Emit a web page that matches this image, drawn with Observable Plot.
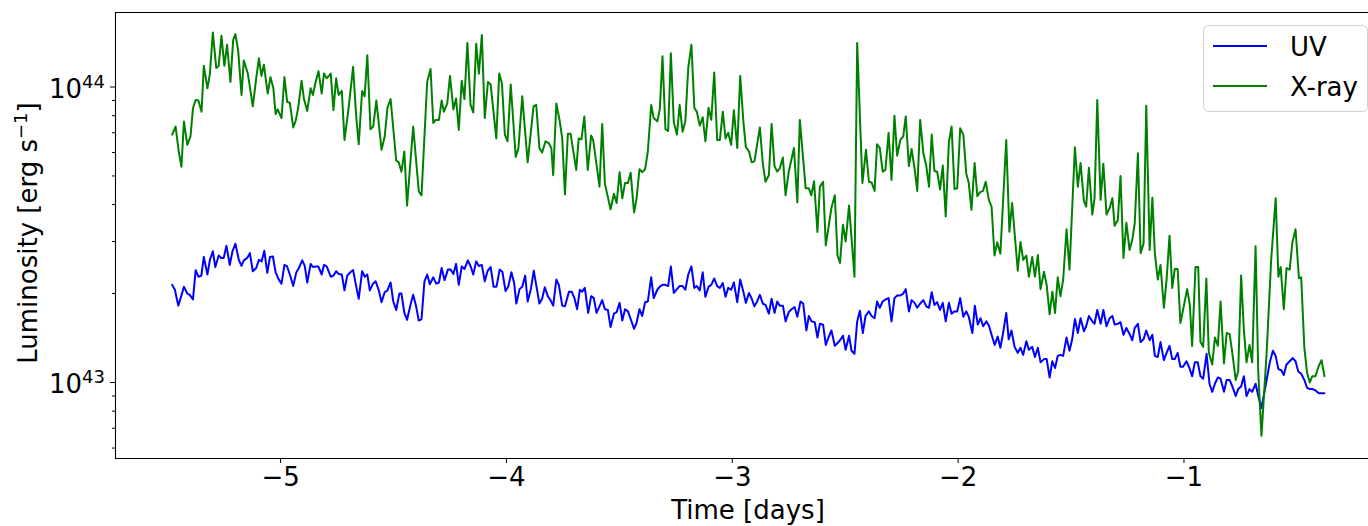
<!DOCTYPE html>
<html><head><meta charset="utf-8">
<script src="https://cdn.jsdelivr.net/npm/d3@7"></script>
<script src="https://cdn.jsdelivr.net/npm/@observablehq/plot@0.6"></script>
<style>
html,body{margin:0;padding:0;background:#fff;overflow:hidden;}
#chart svg{display:block;}
</style></head><body><div id="chart"></div>
<script>
// Luminosity values are in units of 1e43 erg/s
const UNIT = 1e43;
const seriesNames = ["UV", "X-ray"];
const seriesColors = ["#0000ff", "#008000"];
const xTicks = [-5, -4, -3, -2, -1];
const yMajorTicks = [1e43, 1e44];
const yMajorExp = ["43", "44"];
const yMinorTicks = [6e42, 7e42, 8e42, 9e42, 2e43, 3e43, 4e43, 5e43, 6e43, 7e43, 8e43, 9e43];

const xrayTime = [
-5.480,-5.465,-5.451,-5.439,-5.428,-5.413,-5.399,-5.388,-5.376,-5.364,
-5.350,-5.340,-5.324,-5.313,-5.300,-5.285,-5.274,-5.262,-5.249,-5.237,
-5.222,-5.210,-5.200,-5.188,-5.173,-5.163,-5.145,-5.123,-5.108,-5.096,
-5.085,-5.074,-5.057,-5.045,-5.032,-5.022,-5.013,-4.996,-4.983,-4.971,
-4.959,-4.944,-4.934,-4.922,-4.907,-4.897,-4.882,-4.867,-4.857,-4.845,
-4.832,-4.818,-4.808,-4.796,-4.778,-4.766,-4.754,-4.743,-4.729,-4.717,
-4.698,-4.679,-4.665,-4.654,-4.639,-4.628,-4.616,-4.602,-4.590,-4.576,
-4.553,-4.539,-4.527,-4.513,-4.488,-4.477,-4.465,-4.452,-4.440,-4.413,
-4.388,-4.376,-4.351,-4.336,-4.324,-4.314,-4.299,-4.287,-4.277,-4.262,
-4.250,-4.235,-4.223,-4.211,-4.198,-4.186,-4.173,-4.159,-4.147,-4.134,
-4.122,-4.109,-4.096,-4.082,-4.070,-4.045,-4.032,-4.020,-4.007,-3.995,
-3.981,-3.959,-3.947,-3.930,-3.906,-3.880,-3.868,-3.854,-3.842,-3.827,
-3.812,-3.801,-3.793,-3.779,-3.765,-3.753,-3.741,-3.728,-3.716,-3.691,
-3.680,-3.668,-3.655,-3.640,-3.625,-3.616,-3.588,-3.576,-3.564,-3.539,
-3.524,-3.512,-3.499,-3.487,-3.475,-3.462,-3.450,-3.435,-3.424,-3.411,
-3.399,-3.386,-3.374,-3.359,-3.348,-3.332,-3.321,-3.309,-3.296,-3.284,
-3.272,-3.259,-3.245,-3.233,-3.220,-3.208,-3.195,-3.181,-3.168,-3.157,
-3.144,-3.131,-3.119,-3.105,-3.093,-3.080,-3.067,-3.055,-3.042,-3.030,
-3.018,-3.005,-2.993,-2.978,-2.965,-2.951,-2.940,-2.926,-2.914,-2.902,
-2.878,-2.865,-2.853,-2.838,-2.826,-2.813,-2.801,-2.790,-2.776,-2.764,
-2.750,-2.727,-2.712,-2.701,-2.675,-2.661,-2.650,-2.638,-2.623,-2.612,
-2.598,-2.586,-2.561,-2.546,-2.534,-2.523,-2.510,-2.498,-2.483,-2.459,
-2.447,-2.424,-2.408,-2.395,-2.383,-2.370,-2.359,-2.347,-2.334,-2.322,
-2.308,-2.295,-2.282,-2.270,-2.256,-2.243,-2.232,-2.218,-2.206,-2.193,
-2.181,-2.168,-2.154,-2.141,-2.129,-2.117,-2.105,-2.093,-2.080,-2.068,
-2.055,-2.041,-2.029,-2.016,-2.004,-1.991,-1.977,-1.964,-1.953,-1.941,
-1.927,-1.915,-1.904,-1.890,-1.878,-1.864,-1.852,-1.839,-1.827,-1.813,
-1.787,-1.773,-1.761,-1.736,-1.724,-1.712,-1.698,-1.687,-1.672,-1.660,
-1.647,-1.635,-1.620,-1.608,-1.595,-1.583,-1.571,-1.559,-1.547,-1.535,
-1.520,-1.507,-1.483,-1.470,-1.458,-1.443,-1.433,-1.421,-1.406,-1.396,
-1.384,-1.369,-1.357,-1.343,-1.329,-1.317,-1.307,-1.293,-1.281,-1.268,
-1.255,-1.241,-1.229,-1.218,-1.204,-1.192,-1.179,-1.167,-1.152,-1.140,
-1.129,-1.116,-1.104,-1.089,-1.077,-1.064,-1.052,-1.041,-1.028,-1.016,
-1.001,-0.986,-0.974,-0.964,-0.949,-0.937,-0.927,-0.915,-0.901,-0.890,
-0.875,-0.863,-0.850,-0.838,-0.823,-0.811,-0.798,-0.786,-0.771,-0.760,
-0.747,-0.735,-0.723,-0.710,-0.698,-0.683,-0.671,-0.657,-0.634,-0.614,
-0.594,-0.582,-0.572,-0.558,-0.546,-0.532,-0.520,-0.506,-0.491,-0.481,
-0.467,-0.455,-0.443,-0.432,-0.418,-0.403,-0.391,-0.378
];
const xrayLum = [
6.9,7.35,6.05,5.37,7.64,6.37,6.8,8.47,9.04,9.0,
8.25,11.8,9.9,11.1,15.3,11.6,11.8,14.9,11.8,13.9,
10.4,14.4,15.1,13.3,9.4,12.3,11.1,8.6,10.7,12.5,
10.9,11.9,9.5,10.8,9.9,8.1,8.4,7.85,10.8,8.9,
8.85,7.3,7.65,8.5,10.5,9.15,8.3,9.9,9.4,10.4,
11.3,9.5,11.1,10.7,11.1,8.35,10.7,9.4,9.7,6.62,
8.6,11.7,7.9,6.4,9.7,9.3,12.8,7.2,7.35,9.0,
6.13,6.8,8.5,9.1,5.64,5.56,5.17,6.05,3.97,7.35,
4.43,4.3,10.4,11.5,7.55,7.74,7.74,9.0,8.25,8.8,
10.9,8.4,9.15,7.16,10.5,9.1,14.1,8.7,8.2,14.0,
11.1,15.0,7.85,10.4,10.2,6.7,11.1,10.3,6.9,6.55,
10.2,5.8,6.2,9.3,5.56,8.6,8.7,6.2,6.0,6.55,
6.45,6.2,5.03,8.8,7.74,6.7,4.33,6.95,6.95,5.24,
6.7,6.65,7.95,5.24,6.85,6.62,4.6,7.5,4.7,3.86,
4.35,4.05,5.15,4.2,4.73,4.73,5.13,3.76,4.18,5.27,
5.15,5.27,6.05,8.7,7.85,7.65,8.4,12.7,7.2,7.1,
13.0,7.6,6.9,8.7,7.05,7.65,11.6,13.9,8.5,8.25,
7.4,7.9,6.55,8.5,7.74,11.2,6.62,6.62,8.25,6.7,
7.0,6.37,8.35,6.22,10.9,7.65,6.27,6.05,5.56,5.6,
7.3,5.53,4.78,5.03,7.5,5.4,5.17,5.3,5.77,4.3,
5.17,6.22,4.07,7.74,4.54,4.54,4.3,4.8,3.23,4.6,
4.78,2.91,3.9,4.3,2.69,2.54,3.42,3.0,3.97,2.28,
14.1,4.73,6.13,4.78,4.75,4.45,6.4,6.22,5.17,5.24,
7.0,4.85,8.0,5.85,6.62,6.8,7.95,5.4,6.17,5.3,
4.45,7.74,5.97,5.4,4.6,6.9,5.2,5.17,4.5,5.42,
3.65,6.5,7.35,4.52,4.54,7.25,6.9,5.1,4.73,3.84,
5.53,4.27,4.4,4.45,4.78,4.15,3.94,2.69,2.98,2.73,
6.62,3.24,4.05,2.39,2.99,2.6,2.69,2.28,2.66,2.28,
2.7,2.07,2.37,2.14,1.70,2.03,1.72,2.27,1.96,2.23,
3.3,2.41,6.25,4.6,5.53,4.12,3.94,5.33,3.7,4.2,
9.04,4.15,5.5,3.7,3.9,4.2,3.39,3.55,5.0,2.64,
3.47,2.81,3.04,3.46,5.97,2.74,2.95,8.64,2.81,4.22,
2.74,2.23,2.5,1.79,2.23,3.14,2.09,2.42,2.42,1.59,
1.81,2.07,1.83,1.33,2.46,2.46,1.37,1.32,2.25,1.26,
1.15,1.42,1.33,1.88,1.16,1.47,1.46,1.26,1.02,1.09,
2.3,1.51,1.17,1.34,1.17,2.89,1.08,0.66,1.26,2.6,
4.2,2.28,2.46,1.77,2.44,2.41,2.98,3.3,2.25,2.27,
1.31,1.08,1.0,1.05,1.05,1.14,1.19,1.05
];
const uvTime = [
-5.480,-5.468,-5.453,-5.440,-5.428,-5.413,-5.402,-5.388,-5.376,-5.364,
-5.351,-5.340,-5.324,-5.313,-5.300,-5.289,-5.274,-5.263,-5.252,-5.240,
-5.225,-5.213,-5.200,-5.185,-5.173,-5.163,-5.148,-5.136,-5.123,-5.108,
-5.096,-5.084,-5.072,-5.059,-5.047,-5.034,-5.022,-5.008,-4.996,-4.983,
-4.971,-4.956,-4.944,-4.931,-4.919,-4.904,-4.893,-4.882,-4.867,-4.857,
-4.845,-4.833,-4.818,-4.808,-4.796,-4.778,-4.766,-4.754,-4.743,-4.729,
-4.717,-4.705,-4.691,-4.679,-4.665,-4.654,-4.639,-4.627,-4.616,-4.605,
-4.591,-4.579,-4.565,-4.553,-4.539,-4.527,-4.513,-4.501,-4.488,-4.474,
-4.465,-4.452,-4.440,-4.425,-4.413,-4.400,-4.388,-4.376,-4.363,-4.351,
-4.339,-4.324,-4.311,-4.299,-4.287,-4.274,-4.259,-4.247,-4.235,-4.223,
-4.211,-4.198,-4.186,-4.171,-4.159,-4.147,-4.134,-4.122,-4.109,-4.096,
-4.084,-4.070,-4.057,-4.044,-4.030,-4.018,-4.004,-3.992,-3.978,-3.966,
-3.956,-3.942,-3.930,-3.917,-3.906,-3.892,-3.879,-3.867,-3.854,-3.842,
-3.830,-3.817,-3.805,-3.793,-3.779,-3.768,-3.753,-3.741,-3.723,-3.711,
-3.699,-3.687,-3.675,-3.665,-3.653,-3.638,-3.625,-3.613,-3.601,-3.588,
-3.576,-3.564,-3.551,-3.539,-3.524,-3.512,-3.499,-3.487,-3.475,-3.462,
-3.450,-3.435,-3.424,-3.411,-3.399,-3.386,-3.374,-3.359,-3.348,-3.332,
-3.321,-3.309,-3.296,-3.284,-3.272,-3.259,-3.245,-3.233,-3.220,-3.208,
-3.195,-3.181,-3.168,-3.157,-3.144,-3.131,-3.119,-3.105,-3.093,-3.080,
-3.067,-3.055,-3.042,-3.030,-3.018,-3.005,-2.993,-2.978,-2.965,-2.951,
-2.940,-2.926,-2.914,-2.902,-2.890,-2.878,-2.865,-2.853,-2.838,-2.826,
-2.813,-2.801,-2.790,-2.776,-2.764,-2.750,-2.738,-2.724,-2.712,-2.698,
-2.686,-2.672,-2.661,-2.649,-2.635,-2.623,-2.612,-2.598,-2.586,-2.574,
-2.561,-2.546,-2.534,-2.523,-2.510,-2.498,-2.483,-2.472,-2.459,-2.447,
-2.435,-2.422,-2.410,-2.395,-2.383,-2.370,-2.359,-2.347,-2.334,-2.322,
-2.308,-2.295,-2.282,-2.270,-2.256,-2.243,-2.232,-2.218,-2.206,-2.193,
-2.181,-2.168,-2.154,-2.141,-2.129,-2.117,-2.105,-2.093,-2.080,-2.068,
-2.055,-2.041,-2.029,-2.016,-2.004,-1.991,-1.977,-1.964,-1.953,-1.937,
-1.926,-1.913,-1.901,-1.889,-1.875,-1.864,-1.852,-1.838,-1.825,-1.813,
-1.801,-1.787,-1.776,-1.764,-1.750,-1.736,-1.724,-1.712,-1.698,-1.687,
-1.672,-1.660,-1.647,-1.635,-1.620,-1.608,-1.595,-1.583,-1.571,-1.559,
-1.547,-1.535,-1.520,-1.507,-1.495,-1.483,-1.470,-1.458,-1.443,-1.433,
-1.421,-1.406,-1.396,-1.384,-1.369,-1.357,-1.343,-1.329,-1.317,-1.307,
-1.293,-1.281,-1.268,-1.255,-1.241,-1.229,-1.218,-1.204,-1.192,-1.179,
-1.167,-1.152,-1.140,-1.129,-1.116,-1.104,-1.089,-1.077,-1.064,-1.052,
-1.041,-1.028,-1.016,-1.004,-0.989,-0.976,-0.964,-0.952,-0.939,-0.927,
-0.915,-0.900,-0.887,-0.875,-0.863,-0.850,-0.838,-0.823,-0.811,-0.798,
-0.786,-0.771,-0.760,-0.747,-0.735,-0.723,-0.710,-0.698,-0.683,-0.671,
-0.657,-0.634,-0.620,-0.606,-0.594,-0.582,-0.569,-0.558,-0.546,-0.532,
-0.518,-0.506,-0.494,-0.481,-0.467,-0.455,-0.443,-0.430,-0.418,-0.403,-0.378
];
const uvLum = [
2.14,2.06,1.82,1.96,2.11,2.0,1.98,1.91,2.40,2.28,
2.3,2.66,2.32,2.6,2.78,2.46,2.69,2.64,2.64,2.9,
2.5,2.78,2.95,2.6,2.48,2.59,2.64,2.74,2.38,2.44,
2.6,2.57,2.79,2.35,2.66,2.67,2.36,2.23,2.16,2.5,
2.47,2.28,2.12,2.35,2.44,2.59,2.48,2.18,2.52,2.46,
2.47,2.47,2.32,2.5,2.47,2.28,2.3,2.38,2.33,2.32,
2.05,2.3,2.36,2.40,2.11,1.92,2.38,2.28,2.32,2.05,
2.16,2.2,2.05,1.87,2.02,2.05,2.18,1.88,1.76,2.0,
2.0,1.72,1.63,1.83,1.98,1.81,1.62,1.64,2.2,2.32,
2.15,2.27,2.16,2.18,2.44,2.22,2.41,2.41,2.33,2.52,
2.14,2.47,2.42,2.59,2.48,2.32,2.57,2.48,2.5,2.2,
2.38,2.46,2.11,2.11,2.41,2.37,2.04,2.11,2.36,2.17,
1.85,2.07,2.11,2.3,1.88,2.07,2.39,2.11,1.85,1.92,
2.1,1.96,1.90,1.82,2.23,2.14,1.82,1.81,2.03,2.03,
1.93,1.77,2.06,2.03,2.09,1.72,1.96,1.93,1.72,1.81,
1.90,1.77,1.76,1.54,1.71,1.73,1.86,1.62,1.77,1.74,
1.64,1.52,1.59,1.77,1.68,1.87,1.88,2.27,1.93,2.06,
2.11,2.14,2.14,2.12,2.47,2.01,2.07,2.12,2.12,2.06,
2.32,2.47,2.09,2.12,2.05,2.36,1.95,2.11,2.14,2.25,
2.12,2.09,2.17,1.95,2.09,2.06,2.18,1.87,2.23,2.03,
1.86,2.01,1.92,1.81,1.88,1.98,1.85,1.83,1.71,1.92,
1.72,1.88,1.82,1.82,1.61,1.73,1.77,1.80,1.67,1.88,
1.85,1.50,1.68,1.61,1.60,1.42,1.58,1.57,1.34,1.42,
1.50,1.33,1.36,1.39,1.44,1.29,1.44,1.28,1.25,1.61,
1.75,1.47,1.68,1.74,1.68,1.65,1.88,1.79,1.88,1.91,
1.93,1.61,1.93,1.97,1.97,2.0,2.07,1.74,1.90,1.86,
1.79,1.85,1.90,1.81,1.79,2.02,1.83,1.87,1.76,1.86,
1.61,1.86,1.71,1.74,1.74,1.93,1.67,1.74,1.67,1.47,
1.82,1.57,1.65,1.55,1.61,1.56,1.45,1.34,1.43,1.31,
1.47,1.72,1.40,1.50,1.32,1.26,1.31,1.24,1.38,1.29,
1.32,1.22,1.31,1.17,1.2,1.2,1.04,1.18,1.12,1.23,
1.24,1.23,1.42,1.28,1.40,1.64,1.47,1.65,1.49,1.55,
1.68,1.61,1.58,1.76,1.58,1.76,1.55,1.65,1.68,1.57,
1.58,1.60,1.45,1.53,1.46,1.39,1.53,1.58,1.37,1.40,
1.50,1.39,1.45,1.23,1.22,1.37,1.19,1.26,1.33,1.2,
1.2,1.26,1.13,1.13,1.18,1.12,1.05,1.17,1.17,1.05,
1.03,1.25,0.99,0.93,0.99,1.04,1.03,0.93,1.02,1.02,
0.97,0.90,0.95,0.97,1.05,0.90,0.95,0.93,0.99,0.90,
0.82,1.02,1.17,1.28,1.23,1.11,1.10,1.06,1.15,1.18,
1.21,1.18,1.09,1.07,1.02,0.96,0.95,0.95,0.94,0.92,0.92
];

const X_DOMAIN = [-5.731, -0.183];
const Y_DOMAIN = [5.531e42, 1.787e44];

const uvData = uvTime.map((t, i) => ({t, L: uvLum[i] * UNIT}));
const xrayData = xrayTime.map((t, i) => ({t, L: xrayLum[i] * UNIT}));

const chart = Plot.plot({
  width: 1368, height: 526,
  marginLeft: 115, marginRight: 0, marginTop: 12, marginBottom: 68,
  style: {fontFamily: "'DejaVu Sans', sans-serif", fontSize: "26px", background: "#fff", color: "#000"},
  x: {domain: X_DOMAIN},
  y: {type: "log", domain: Y_DOMAIN},
  marks: [
    Plot.line(uvData, {x: "t", y: "L", stroke: seriesColors[0], strokeWidth: 2}),
    Plot.line(xrayData, {x: "t", y: "L", stroke: seriesColors[1], strokeWidth: 2}),
    Plot.ruleX([X_DOMAIN[0]], {stroke: "#000", strokeWidth: 1.1}),
    Plot.ruleY(Y_DOMAIN, {stroke: "#000", strokeWidth: 1.1}),
    Plot.axisX({ticks: xTicks, tickSize: 5, tickPadding: 4, tickFormat: d => "\u2212" + Math.abs(d), label: null}),
    Plot.axisY({ticks: yMinorTicks, tickSize: 3, tickFormat: () => "", label: null}),
    Plot.axisY({ticks: yMajorTicks, tickSize: 5, tickFormat: () => "", label: null})
  ]
});
document.getElementById("chart").appendChild(chart);

const svg = d3.select(chart);
const yScale = chart.scale("y");

// y tick labels with superscript exponents
yMajorTicks.forEach((v, i) => {
  const py = yScale.apply(v);
  const t = svg.append("text").attr("x", 105).attr("y", py + 11)
    .attr("text-anchor", "end").attr("font-size", 26).attr("fill", "#000");
  t.append("tspan").text("10");
  t.append("tspan").attr("font-size", 18).attr("dy", -10).text(yMajorExp[i]);
});

// axis titles
svg.append("text").attr("x", 748).attr("y", 519).attr("text-anchor", "middle")
  .attr("font-size", 26).attr("fill", "#000").text("Time [days]");
const yl = svg.append("text").attr("transform", "translate(37,233) rotate(-90)")
  .attr("text-anchor", "middle").attr("font-size", 26).attr("fill", "#000");
yl.append("tspan").text("Luminosity [erg s");
yl.append("tspan").attr("font-size", 18).attr("dy", -10).text("\u22121");
yl.append("tspan").attr("dy", 10).text("]");

// legend
const lg = svg.append("g");
lg.append("rect").attr("x", 1203.5).attr("y", 25.5).attr("width", 164).attr("height", 86)
  .attr("rx", 5).attr("fill", "#fff").attr("fill-opacity", 0.8).attr("stroke", "#d0d0d0");
seriesNames.forEach((name, i) => {
  const cy = 46 + i * 40;
  lg.append("line").attr("x1", 1213).attr("x2", 1267).attr("y1", cy).attr("y2", cy)
    .attr("stroke", seriesColors[i]).attr("stroke-width", 2);
  lg.append("text").attr("x", 1290).attr("y", cy + 10).attr("font-size", 26)
    .attr("text-anchor", "start").attr("fill", "#000").text(name);
});

if (xrayTime.length !== xrayLum.length || uvTime.length !== uvLum.length) {
  svg.append("text").attr("x", 600).attr("y", 40).attr("fill", "red").attr("font-size", 14)
    .text(`length mismatch ${xrayTime.length}/${xrayLum.length} ${uvTime.length}/${uvLum.length}`);
}
</script>
</body></html>
